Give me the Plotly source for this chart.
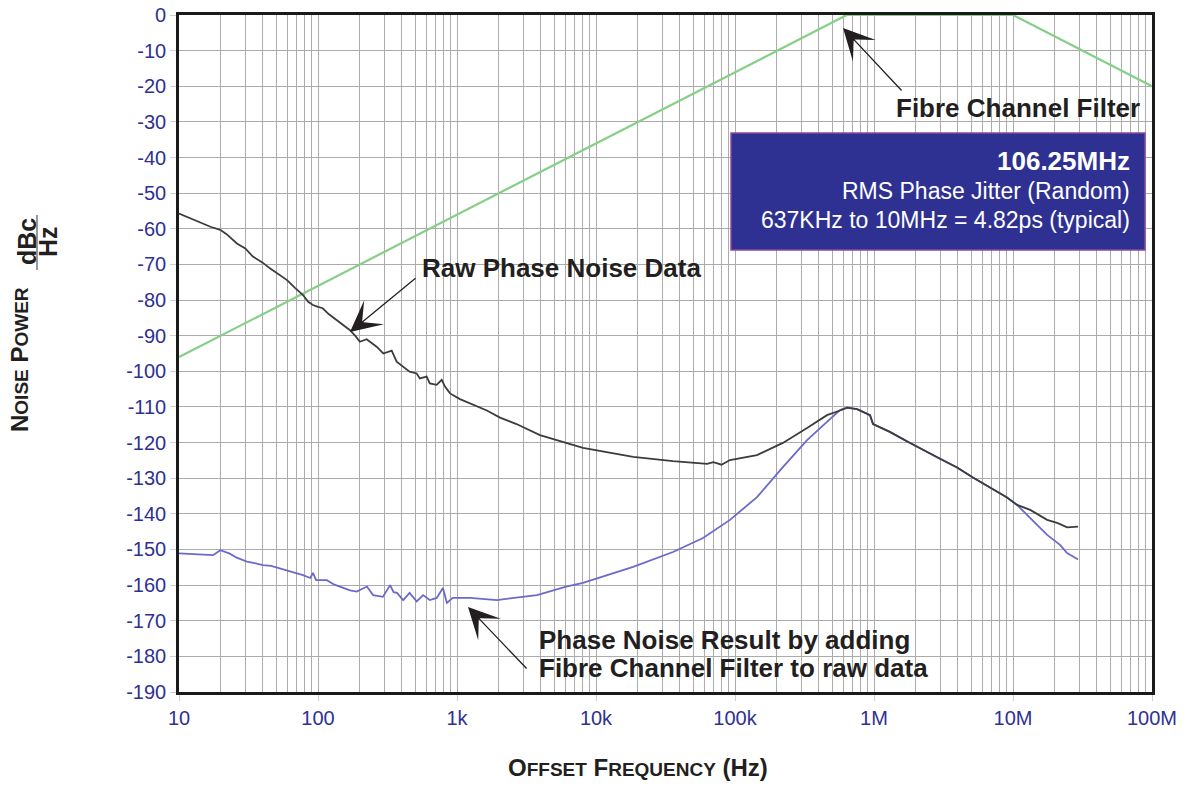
import plotly.graph_objects as go

# ---------------- data ----------------
raw_freq = [10, 12, 14.9, 17, 19.8, 22, 26.1, 30, 34, 40, 45.1, 52, 59.9, 68, 78, 85, 92, 100,
            108, 120, 136, 150, 169, 185, 200, 224, 236, 264, 295, 339, 368, 411, 456, 513,
            540, 605, 637, 714, 776, 820, 891, 1050, 1640, 2040, 2680, 3950, 8060, 18500,
            35800, 63000, 70000, 80000, 92000, 144000, 221000, 330000, 459000, 569000,
            640000, 755000, 936000, 984000, 1.3e6, 1.73e6, 2.25e6, 2.99e6, 3.96e6, 5.15e6,
            6.83e6, 9.06e6, 10.7e6, 13.3e6, 17.6e6, 21.0e6, 24.5e6, 29.4e6]
raw_db = [-55.7, -57.0, -58.5, -59.5, -60.3, -61.5, -64.1, -65.5, -67.8, -69.5, -71.1, -72.8,
          -74.4, -76.5, -78.6, -80.5, -81.4, -81.9, -82.3, -84.0, -85.6, -87.0, -88.4, -90.0,
          -91.7, -91.0, -91.7, -93.1, -95.0, -94.2, -97.3, -98.7, -100.1, -100.6, -102.0,
          -101.5, -103.4, -103.8, -102.4, -104.3, -106.2, -107.8, -111.0, -113.0, -114.8,
          -117.9, -121.5, -124.0, -125.2, -126.0, -125.5, -126.2, -124.9, -123.5, -120.1,
          -115.9, -112.3, -111.0, -110.2, -110.6, -112.3, -114.8, -117.0, -119.7, -122.0,
          -124.6, -127.0, -129.8, -132.5, -135.4, -137.5, -138.9, -141.7, -142.6, -143.8,
          -143.6]

res_freq = [10, 13, 17.6, 19.8, 23, 26, 30.8, 35, 40.2, 46, 53.3, 65, 78, 88, 92, 97, 103,
            116, 130, 151, 170, 190, 210, 225, 249, 293, 330, 350, 370, 410, 456, 513, 570,
            637, 715, 792, 846, 933, 1240, 1940, 3760, 6100, 8060, 18500, 35800, 58900,
            92000, 144000, 221000, 330000, 459000, 569000, 640000, 755000, 936000, 984000,
            1.3e6, 1.73e6, 2.25e6, 2.99e6, 3.96e6, 5.15e6, 6.83e6, 9.06e6, 10.7e6, 13.3e6,
            17.6e6, 21.8e6, 24.5e6, 29.4e6]
res_db = [-151.1, -151.3, -151.6, -150.2, -151.1, -152.3, -153.4, -153.8, -154.4, -154.6,
          -155.3, -156.2, -157.2, -158.0, -156.6, -158.6, -158.6, -158.6, -159.8, -160.8,
          -161.5, -161.8, -161.0, -160.4, -162.8, -163.3, -160.0, -162.0, -162.2, -164.2,
          -162.2, -164.6, -162.8, -164.2, -163.6, -160.8, -165.0, -163.6, -163.6, -164.2,
          -162.8, -160.4, -159.4, -154.9, -150.7, -146.8, -141.7, -135.3, -126.9, -119.3,
          -114.2, -110.9, -110.2, -110.6, -112.3, -114.8, -117.0, -119.7, -122.0, -124.6,
          -127.0, -129.8, -132.5, -135.4, -137.5, -141.2, -145.9, -148.7, -151.0, -152.8]

filter_freq = [10, 637e3, 10e6, 100e6]
filter_db = [-96, 0, 0, -20]

x_tickvals = [10, 100, 1e3, 1e4, 1e5, 1e6, 1e7, 1e8]
x_ticktext = ["10", "100", "1k", "10k", "100k", "1M", "10M", "100M"]
y_tickvals = list(range(0, -200, -10))
y_ticktext = ["0" if v == 0 else "-%d" % (-v) for v in y_tickvals]

# ---------------- layout constants ----------------
OFF = 8                      # default page (body) margin of the html page
W, H = 1188 - OFF, 785 - OFF
L, T = 179 - OFF, 15 - OFF
R, B = (W + OFF) - 1152, (H + OFF) - 692
PW, PH = W - L - R, H - T - B
TICK_BLUE = "#2e3192"
TXT = "#231f20"
FONT = "Liberation Sans, Arial, Helvetica, sans-serif"


def px(xp):
    """page x pixel -> paper coordinate"""
    return (xp - OFF - L) / PW


def py(yp):
    """page y pixel -> paper coordinate"""
    return (H - B - (yp - OFF)) / PH


fig = go.Figure()
fig.add_trace(go.Scatter(x=filter_freq, y=filter_db, mode="lines",
                         line=dict(color="#86cf86", width=2.2), hoverinfo="skip"))
fig.add_trace(go.Scatter(x=res_freq, y=res_db, mode="lines",
                         line=dict(color="#6a6acb", width=1.8), hoverinfo="skip"))
fig.add_trace(go.Scatter(x=raw_freq, y=raw_db, mode="lines",
                         line=dict(color="#3c3c3c", width=1.8), hoverinfo="skip"))

grid = "#ababab"
fig.update_xaxes(type="log", range=[1, 8], tickvals=x_tickvals, ticktext=x_ticktext,
                 showgrid=True, gridcolor=grid, gridwidth=1.4, automargin=False,
                 minor=dict(dtick="D1", showgrid=True, gridcolor=grid, gridwidth=1.4,
                            ticks=""),
                 ticks="outside", ticklen=6, tickcolor="#cfcfcf",
                 ticklabeloverflow="allow",
                 tickfont=dict(size=20, color=TICK_BLUE, family=FONT),
                 showline=True, linecolor="#1a1a1a", linewidth=2.6, mirror=True,
                 zeroline=False)
fig.update_yaxes(range=[-190, 0], tickvals=y_tickvals, ticktext=y_ticktext,
                 showgrid=True, gridcolor=grid, gridwidth=1.4, automargin=False,
                 ticks="outside", ticklen=6, tickcolor="#cfcfcf",
                 ticklabeloverflow="allow",
                 tickfont=dict(size=20, color=TICK_BLUE, family=FONT),
                 showline=True, linecolor="#1a1a1a", linewidth=2.6, mirror=True,
                 zeroline=False)

annotations = []


def text(xp, yp, s, size, color=TXT, bold=True, xanchor="left", angle=0):
    annotations.append(dict(xref="paper", yref="paper", x=px(xp), y=py(yp),
                            text=("<b>%s</b>" % s) if bold else s, showarrow=False,
                            xanchor=xanchor, yanchor="middle", textangle=angle,
                            font=dict(size=size, color=color, family=FONT)))


def arrow(tip_x, tip_y, tail_x, tail_y):
    annotations.append(dict(xref="paper", yref="paper", x=px(tip_x), y=py(tip_y),
                            ax=tail_x - tip_x, ay=tail_y - tip_y, text="",
                            showarrow=True, arrowhead=3, arrowwidth=1.3, arrowsize=4,
                            arrowcolor=TXT, standoff=0))


# labels
text(1142, 108, "Fibre Channel Filter", 26, xanchor="right")
text(420, 268, "Raw Phase Noise Data", 26)
text(537, 640, "Phase Noise Result by adding", 26)
text(537, 668, "Fibre Channel Filter to raw data", 26)

# arrows
arrow(843, 28, 903, 92)
arrow(350, 332, 417, 277)
arrow(468, 607, 528, 670)

# info box text
text(1132, 161, "106.25MHz", 26, color="white", xanchor="right")
text(1132, 191, "RMS Phase Jitter (Random)", 23, color="white", bold=False, xanchor="right")
text(1132, 220, "637KHz to 10MHz = 4.82ps (typical)", 23, color="white", bold=False,
     xanchor="right")

# axis titles (small caps)
sc = '<span style="font-size:19px">%s</span>'
text(638, 767, "O" + sc % "FFSET" + " F" + sc % "REQUENCY" + " (Hz)", 24, xanchor="center")
annotations.append(dict(xref="paper", yref="paper", x=px(19), y=py(360),
                        text="<b>N" + sc % "OISE" + " P" + sc % "OWER" + "</b>",
                        showarrow=False, textangle=-90, xanchor="center", yanchor="middle",
                        font=dict(size=24, color=TXT, family=FONT)))
annotations.append(dict(xref="paper", yref="paper", x=px(27), y=py(242), text="<b>dBc</b>",
                        showarrow=False, textangle=-90, xanchor="center", yanchor="middle",
                        font=dict(size=25, color=TXT, family=FONT)))
annotations.append(dict(xref="paper", yref="paper", x=px(48), y=py(242), text="<b>Hz</b>",
                        showarrow=False, textangle=-90, xanchor="center", yanchor="middle",
                        font=dict(size=25, color=TXT, family=FONT)))

shapes = [
    dict(type="rect", xref="paper", yref="paper", x0=px(731), x1=px(1145), y0=py(250),
         y1=py(133), fillcolor="#2e3192", line=dict(color="#8c4a9c", width=1.5), layer="above"),
    dict(type="line", xref="paper", yref="paper", x0=px(37), x1=px(37), y0=py(270),
         y1=py(215), line=dict(color="#555555", width=1.2)),
]

fig.update_layout(width=W, height=H, margin=dict(l=L, r=R, t=T, b=B, pad=0, autoexpand=False),
                  plot_bgcolor="white", paper_bgcolor="white", showlegend=False,
                  font=dict(family=FONT), annotations=annotations, shapes=shapes)

fig.write_html("out.html")
